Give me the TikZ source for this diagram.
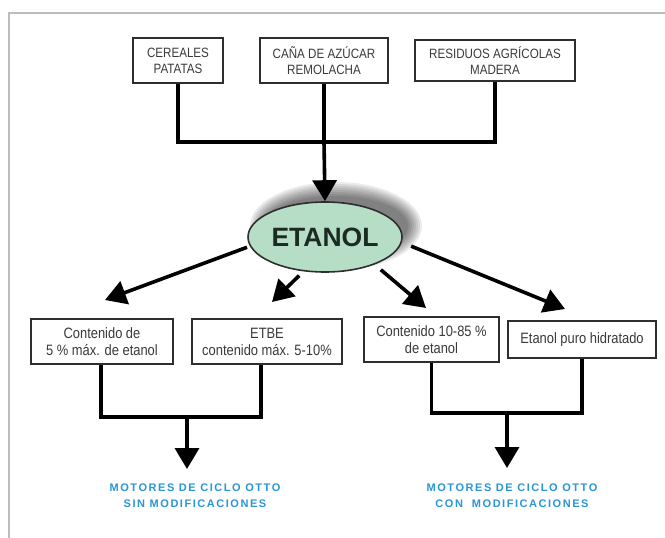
\documentclass[tikz,border=0pt]{standalone}
\usepackage{fontspec}
\setmainfont{Liberation Sans}
\newfontfamily\boxfont[FakeStretch=0.86]{Liberation Sans}
\newfontfamily\motorfont[LetterSpace=14]{Liberation Sans}
\usetikzlibrary{arrows.meta, shapes.geometric}

\definecolor{boxline}{HTML}{2E2E2E}
\definecolor{boxtext}{HTML}{3A3A3A}
\definecolor{framegray}{HTML}{BDBDBD}
\definecolor{mint}{HTML}{B6DDC6}
\definecolor{etanoltext}{HTML}{1C2B22}
\definecolor{motorblue}{HTML}{2A96D6}

\tikzset{
  srcbox/.style={draw=boxline, line width=1.8pt, fill=white, inner sep=0pt,
    align=center, text=boxtext, font=\fontsize{13.5}{16}\selectfont\boxfont},
  usebox/.style={draw=boxline, line width=1.8pt, fill=white, inner sep=0pt,
    align=center, text=boxtext, font=\fontsize{15}{17}\selectfont\boxfont},
  conn/.style={line width=3.6pt, black},
  arr/.style={line width=3.6pt, black, -{Triangle[length=21pt,width=24pt]}},
  motor/.style={align=center, text=motorblue, inner sep=0pt,
    font=\fontsize{11}{16}\selectfont\motorfont\bfseries},
}

\begin{document}
\begin{tikzpicture}[x=1pt, y=-1pt]
  \useasboundingbox (0,0) rectangle (665,538);
  \fill[white] (0,0) rectangle (665,538);

  % page frame
  \draw[framegray, line width=1.5pt] (9,540) -- (9,13) -- (667,13);

  % raw materials
  \node[srcbox, minimum width=90pt, minimum height=45pt] (cer) at (178,60.5)
    {CEREALES\\PATATAS};
  \node[srcbox, minimum width=128pt, minimum height=45pt] (cana) at (324,60.5)
    {CAÑA DE AZÚCAR\\REMOLACHA};
  \node[srcbox, minimum width=160pt, minimum height=41pt] (res) at (495,60.5)
    {RESIDUOS AGRÍCOLAS\\MADERA};

  % soft shadow behind the ellipse
  \foreach \k in {9,7,...,-5}
    \fill[black, opacity=0.08] (336,226) ellipse ({77+\k} and {35+\k});

  % central product
  \node[ellipse, draw=boxline, line width=1.6pt, fill=mint,
        minimum width=154pt, minimum height=70pt, inner sep=0pt,
        text=etanoltext, font=\fontsize{26.5}{30}\selectfont\bfseries]
    (etanol) at (325,237) {ETANOL};

  % collector from the raw materials
  \coordinate (jt) at (324,142);
  \draw[conn] (cer.south) |- (jt) -| (res.south);
  \draw[conn] (cana.south) -- (jt);
  \draw[arr] (jt) -- (etanol.north);

  % uses
  \node[usebox, minimum width=142pt, minimum height=45pt] (u1) at (102,341.5)
    {Contenido de\\5 \% máx. de etanol};
  \node[usebox, minimum width=150pt, minimum height=45pt] (u2) at (267,341.5)
    {ETBE\\contenido máx. 5-10\%};
  \node[usebox, minimum width=135pt, minimum height=45pt] (u3) at (431.5,339.5)
    {Contenido 10-85 \%\\de etanol};
  \node[usebox, minimum width=148pt, minimum height=37pt] (u4) at (582,339.5)
    {Etanol puro hidratado};

  % arrows from the ellipse
  \coordinate (t1) at (105,300);
  \coordinate (t2) at (272,302);
  \coordinate (t3) at (426,308);
  \coordinate (t4) at (565,309);
  \draw[arr, shorten <=3pt] (etanol.187) -- (t1);
  \draw[arr, shorten <=6pt] (etanol.238) -- (t2);
  \draw[arr, shorten <=8pt] (etanol.331) -- (t3);
  \draw[arr, shorten <=10pt] (etanol.356) -- (t4);

  % engines
  \node[motor] (m1) at (195,496) {MOTORES DE CICLO OTTO\\SIN MODIFICACIONES};
  \node[motor] (m2) at (512,496) {MOTORES DE CICLO OTTO\\CON\hspace{0.4em} MODIFICACIONES};

  % collectors to the engines
  \coordinate (jl) at (187,417);
  \coordinate (jr) at (507,413);
  \coordinate (el) at (187,469);
  \coordinate (er) at (507,468);
  \draw[conn] ([xshift=-1pt]u1.south) |- (jl) -| ([xshift=-6pt]u2.south);
  \draw[arr] (jl) -- (el);
  \draw[conn] (u3.south) |- (jr) -| (u4.south);
  \draw[arr] (jr) -- (er);
\end{tikzpicture}
\end{document}
